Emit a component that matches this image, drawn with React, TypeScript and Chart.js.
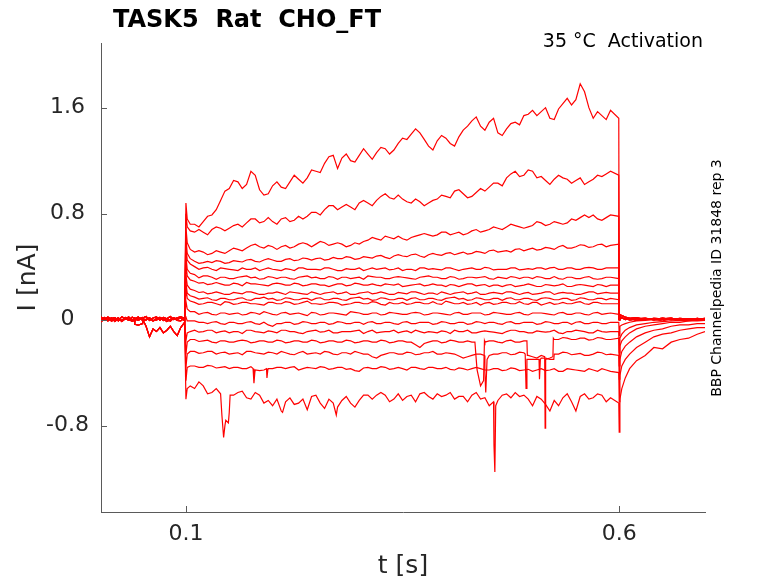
import { useEffect, useRef } from "react"
import { Chart, registerables } from "chart.js"

Chart.register(...registerables)

// ── text ────────────────────────────────────────────────────────────────
const TITLE = "TASK5  Rat  CHO_FT"
const CONDITION = "35 °C  Activation"
const SOURCE = "BBP Channelpedia ID 31848 rep 3"
const X_TITLE = "t [s]"
const Y_TITLE = "I [nA]"

// ── axes ────────────────────────────────────────────────────────────────
const X_MIN = 0.002
const X_MAX = 0.699
const Y_MIN = -1.452
const Y_MAX = 2.088
const X_TICKS = [0.1, 0.6]
const X_TICK_LABELS = ["0.1", "0.6"]
const Y_TICKS = [-0.8, 0, 0.8, 1.6]
const Y_TICK_LABELS = ["-0.8", "0", "0.8", "1.6"]

// ── sample times (s) ────────────────────────────────────────────────────
const T_PRE = [0.002, 0.006, 0.01, 0.014, 0.018, 0.022, 0.026, 0.03, 0.034, 0.038, 0.0405, 0.041, 0.045, 0.0495, 0.05, 0.054, 0.058, 0.062, 0.066, 0.07, 0.074, 0.078, 0.082, 0.086, 0.09, 0.094, 0.0985]
const T_ONSET = [0.1, 0.1015, 0.105]
const T_STEP = [0.11, 0.12, 0.13, 0.14, 0.15, 0.16, 0.17, 0.18, 0.19, 0.2, 0.21, 0.22, 0.23, 0.24, 0.25, 0.26, 0.27, 0.28, 0.29, 0.3, 0.31, 0.32, 0.33, 0.34, 0.35, 0.36, 0.37, 0.38, 0.39, 0.4, 0.41, 0.42, 0.43, 0.44, 0.45, 0.46, 0.47, 0.48, 0.49, 0.5, 0.51, 0.52, 0.53, 0.54, 0.55, 0.56, 0.57, 0.58, 0.59]
const T_MID = [0.115, 0.125, 0.135, 0.145, 0.155, 0.165, 0.175, 0.185, 0.195, 0.205, 0.215, 0.225, 0.235, 0.245, 0.255, 0.265, 0.275, 0.285, 0.295, 0.305, 0.315, 0.325, 0.335, 0.345, 0.355, 0.365, 0.375, 0.385, 0.395, 0.405, 0.415, 0.425, 0.435, 0.445, 0.455, 0.465, 0.475, 0.485, 0.495, 0.505, 0.515, 0.525, 0.535, 0.545, 0.555, 0.565, 0.575, 0.585]
const T_END = 0.5995
const T_TAIL = [0.6, 0.6008, 0.603, 0.607, 0.612, 0.62, 0.63, 0.64, 0.65, 0.66, 0.67, 0.68, 0.69, 0.699]

// ── holding current before the step (nA) ────────────────────────────────
const base0 = [0.02, -0.005, 0.018, 0.004, 0.015, -0.01, 0.022, 0.006, -0.004, 0.018, 0.01, 0.004, 0.02, -0.002, 0.012, 0.024, -0.006, 0.012, 0.02, -0.004, 0.016, 0.006, 0.024, 0.0, 0.014, 0.02, 0.01]
const base1 = [-0.012, 0.012, -0.004, 0.014, -0.014, 0.008, -0.006, 0.016, 0.002, -0.012, 0.004, -0.035, -0.042, -0.03, 0.01, -0.004, 0.014, -0.01, 0.008, 0.016, -0.006, 0.008, -0.012, 0.014, 0.002, 0.012, -0.008]
const base2 = [0.006, 0.016, -0.01, 0.01, 0.014, -0.004, -0.008, 0.012, 0.016, -0.002, 0.008, 0.004, -0.006, 0.01, 0.002, -0.05, -0.13, -0.07, -0.09, -0.06, -0.1, -0.08, -0.05, -0.09, -0.12, -0.06, -0.02]
const base3 = [-0.016, 0.004, 0.018, -0.01, 0.0, 0.014, -0.014, 0.006, 0.02, -0.006, -0.01, 0.012, 0.004, 0.016, -0.012, 0.002, 0.012, -0.008, -0.004, 0.016, 0.004, -0.014, 0.002, 0.012, -0.006, -0.01, 0.014]

// ── onset transient and last sample of each sweep (nA) ─────────────────
const ONSET_PEAK = [0.88, 0.8, 0.7, 0.62, 0.55, 0.48, 0.42, 0.34, 0.28, 0.24, 0.14, 0.02, -0.16, -0.26, -0.36, -0.46, -0.6]
const ONSET_MID = [0.76, 0.7, 0.58, 0.5, 0.45, 0.38, 0.33, 0.26, 0.2, 0.16, 0.08, -0.01, -0.1, -0.17, -0.26, -0.36, -0.52]
const ONSET_LATE = [0.72, 0.67, 0.53, 0.46, 0.42, 0.35, 0.3, 0.23, 0.18, 0.14, 0.06, -0.01, -0.09, -0.15, -0.24, -0.35, -0.5]
const STEP_END = [1.52, 1.09, 0.78, 0.57, 0.39, 0.31, 0.26, 0.2, 0.15, 0.12, 0.04, -0.02, -0.09, -0.14, -0.27, -0.4, -0.63]

// ── current during the step at T_STEP, one array per sweep (nA) ────────
const stepA = [0.72, 0.74, 0.79, 0.9, 0.99, 1.04, 1.02, 1.09, 0.94, 1.01, 1.0, 1.04, 1.06, 1.07, 1.12, 1.18, 1.24, 1.22, 1.2, 1.24, 1.25, 1.26, 1.29, 1.28, 1.37, 1.4, 1.41, 1.31, 1.35, 1.37, 1.31, 1.43, 1.5, 1.46, 1.49, 1.41, 1.44, 1.49, 1.54, 1.58, 1.57, 1.52, 1.59, 1.67, 1.66, 1.72, 1.52, 1.54, 1.58]
const stepB = [0.66, 0.66, 0.68, 0.69, 0.69, 0.72, 0.73, 0.76, 0.74, 0.74, 0.76, 0.74, 0.78, 0.78, 0.81, 0.83, 0.86, 0.85, 0.85, 0.88, 0.88, 0.9, 0.95, 0.91, 0.91, 0.88, 0.89, 0.88, 0.91, 0.93, 0.97, 0.95, 0.93, 0.99, 1.0, 1.03, 1.07, 1.12, 1.09, 1.12, 1.08, 1.02, 1.09, 1.06, 1.05, 1.02, 1.06, 1.08, 1.12]
const stepC = [0.51, 0.51, 0.5, 0.51, 0.52, 0.53, 0.54, 0.57, 0.54, 0.55, 0.55, 0.54, 0.57, 0.57, 0.57, 0.58, 0.57, 0.57, 0.56, 0.57, 0.6, 0.61, 0.63, 0.61, 0.61, 0.62, 0.64, 0.64, 0.64, 0.66, 0.65, 0.64, 0.67, 0.66, 0.68, 0.69, 0.7, 0.71, 0.69, 0.71, 0.73, 0.72, 0.73, 0.73, 0.75, 0.79, 0.79, 0.75, 0.79]
const stepD = [0.44, 0.43, 0.43, 0.44, 0.43, 0.44, 0.45, 0.44, 0.45, 0.45, 0.44, 0.46, 0.45, 0.46, 0.46, 0.45, 0.47, 0.46, 0.47, 0.46, 0.47, 0.48, 0.47, 0.48, 0.48, 0.49, 0.48, 0.49, 0.49, 0.5, 0.49, 0.51, 0.5, 0.51, 0.52, 0.51, 0.52, 0.53, 0.52, 0.54, 0.53, 0.54, 0.55, 0.54, 0.55, 0.56, 0.55, 0.57, 0.56]
const stepE = [0.4, 0.39, 0.38, 0.39, 0.38, 0.37, 0.38, 0.39, 0.38, 0.38, 0.37, 0.38, 0.39, 0.38, 0.38, 0.39, 0.38, 0.37, 0.38, 0.39, 0.38, 0.38, 0.39, 0.38, 0.37, 0.38, 0.39, 0.38, 0.38, 0.39, 0.38, 0.38, 0.39, 0.38, 0.39, 0.38, 0.38, 0.39, 0.38, 0.38, 0.39, 0.39, 0.38, 0.39, 0.38, 0.39, 0.39, 0.38, 0.39]
const stepF = [0.34, 0.33, 0.32, 0.32, 0.31, 0.32, 0.33, 0.32, 0.31, 0.32, 0.32, 0.31, 0.32, 0.33, 0.32, 0.31, 0.32, 0.32, 0.31, 0.32, 0.33, 0.32, 0.31, 0.32, 0.32, 0.31, 0.32, 0.33, 0.32, 0.31, 0.32, 0.31, 0.32, 0.32, 0.31, 0.32, 0.31, 0.32, 0.32, 0.31, 0.32, 0.31, 0.31, 0.32, 0.31, 0.32, 0.31, 0.31, 0.32]
const stepG = [0.29, 0.28, 0.27, 0.27, 0.26, 0.27, 0.28, 0.27, 0.26, 0.27, 0.27, 0.26, 0.27, 0.26, 0.27, 0.26, 0.26, 0.27, 0.26, 0.27, 0.26, 0.26, 0.27, 0.26, 0.25, 0.26, 0.27, 0.26, 0.26, 0.25, 0.26, 0.26, 0.27, 0.26, 0.25, 0.26, 0.26, 0.25, 0.26, 0.26, 0.25, 0.26, 0.26, 0.25, 0.26, 0.26, 0.25, 0.26, 0.26]
const stepH = [0.22, 0.21, 0.2, 0.2, 0.19, 0.2, 0.21, 0.2, 0.19, 0.2, 0.2, 0.21, 0.2, 0.19, 0.2, 0.2, 0.21, 0.2, 0.19, 0.2, 0.21, 0.2, 0.2, 0.19, 0.2, 0.21, 0.2, 0.2, 0.19, 0.2, 0.2, 0.21, 0.2, 0.19, 0.2, 0.2, 0.21, 0.2, 0.2, 0.19, 0.2, 0.21, 0.2, 0.2, 0.19, 0.2, 0.21, 0.2, 0.2]
const stepI = [0.17, 0.16, 0.15, 0.16, 0.15, 0.16, 0.15, 0.16, 0.17, 0.16, 0.15, 0.16, 0.15, 0.16, 0.16, 0.15, 0.16, 0.15, 0.16, 0.17, 0.16, 0.15, 0.16, 0.15, 0.16, 0.16, 0.15, 0.16, 0.15, 0.16, 0.17, 0.16, 0.15, 0.16, 0.15, 0.16, 0.16, 0.15, 0.16, 0.15, 0.16, 0.16, 0.15, 0.16, 0.15, 0.16, 0.15, 0.16, 0.16]
const stepJ = [0.13, 0.12, 0.13, 0.11, 0.13, 0.12, 0.13, 0.12, 0.11, 0.13, 0.12, 0.13, 0.12, 0.14, 0.12, 0.12, 0.13, 0.11, 0.12, 0.13, 0.12, 0.13, 0.11, 0.12, 0.13, 0.12, 0.13, 0.12, 0.12, 0.14, 0.12, 0.13, 0.12, 0.11, 0.13, 0.12, 0.13, 0.12, 0.12, 0.13, 0.11, 0.13, 0.12, 0.12, 0.13, 0.12, 0.13, 0.12, 0.12]
const stepK = [0.06, 0.05, 0.04, 0.05, 0.04, 0.05, 0.04, 0.05, 0.06, 0.04, 0.05, 0.04, 0.05, 0.03, 0.05, 0.04, 0.05, 0.04, 0.06, 0.05, 0.04, 0.05, 0.04, 0.05, 0.04, 0.05, 0.05, 0.04, 0.05, 0.04, 0.05, 0.04, 0.05, 0.05, 0.04, 0.05, 0.04, 0.05, 0.04, 0.05, 0.05, 0.04, 0.05, 0.04, 0.05, 0.04, 0.05, 0.04, 0.05]
const stepL = [-0.01, -0.02, -0.02, -0.03, -0.02, -0.03, -0.02, -0.03, -0.02, -0.05, -0.03, -0.02, -0.03, -0.02, -0.03, -0.02, -0.03, -0.02, -0.03, -0.02, -0.02, -0.03, -0.02, -0.03, -0.02, -0.03, -0.02, -0.02, -0.03, -0.02, -0.03, -0.02, -0.03, -0.02, -0.02, -0.03, -0.02, -0.03, -0.02, -0.02, -0.03, -0.02, -0.03, -0.02, -0.02, -0.03, -0.02, -0.03, -0.02]
const stepM = [-0.08, -0.09, -0.08, -0.09, -0.1, -0.09, -0.08, -0.09, -0.1, -0.09, -0.08, -0.09, -0.1, -0.09, -0.08, -0.09, -0.1, -0.09, -0.09, -0.08, -0.09, -0.1, -0.09, -0.08, -0.09, -0.1, -0.09, -0.09, -0.1, -0.09, -0.08, -0.09, -0.1, -0.09, -0.09, -0.1, -0.09, -0.08, -0.09, -0.1, -0.09, -0.09, -0.1, -0.09, -0.08, -0.09, -0.1, -0.09, -0.09]
const stepN = [-0.15, -0.16, -0.17, -0.16, -0.17, -0.16, -0.16, -0.17, -0.16, -0.17, -0.16, -0.17, -0.16, -0.17, -0.16, -0.17, -0.16, -0.17, -0.16, -0.17, -0.16, -0.17, -0.16, -0.17, -0.16, -0.17, -0.21, -0.17, -0.16, -0.17, -0.16, -0.17, -0.17, -0.5, -0.16, -0.17, -0.16, -0.17, -0.16, -0.28, -0.27, -0.29, -0.15, -0.14, -0.15, -0.14, -0.15, -0.14, -0.15]
const stepO = [-0.24, -0.25, -0.24, -0.25, -0.26, -0.25, -0.24, -0.25, -0.26, -0.25, -0.24, -0.26, -0.25, -0.26, -0.25, -0.24, -0.26, -0.25, -0.26, -0.25, -0.26, -0.29, -0.26, -0.25, -0.26, -0.25, -0.26, -0.25, -0.26, -0.25, -0.26, -0.29, -0.27, -0.26, -0.27, -0.26, -0.25, -0.26, -0.25, -0.3, -0.29, -0.3, -0.26, -0.25, -0.26, -0.27, -0.26, -0.25, -0.26]
const stepP = [-0.35, -0.36, -0.35, -0.36, -0.37, -0.36, -0.37, -0.38, -0.38, -0.37, -0.36, -0.36, -0.38, -0.36, -0.37, -0.36, -0.37, -0.36, -0.37, -0.39, -0.36, -0.37, -0.36, -0.37, -0.37, -0.36, -0.37, -0.36, -0.37, -0.36, -0.38, -0.37, -0.37, -0.37, -0.38, -0.37, -0.38, -0.37, -0.38, -0.39, -0.37, -0.38, -0.39, -0.37, -0.38, -0.39, -0.38, -0.37, -0.39]
const stepQ = [-0.52, -0.5, -0.55, -0.56, -0.7, -0.55, -0.59, -0.55, -0.63, -0.65, -0.69, -0.59, -0.63, -0.68, -0.57, -0.67, -0.63, -0.61, -0.63, -0.61, -0.57, -0.57, -0.57, -0.6, -0.61, -0.57, -0.56, -0.58, -0.56, -0.57, -0.6, -0.58, -0.57, -0.6, -0.65, -0.61, -0.56, -0.55, -0.57, -0.65, -0.6, -0.69, -0.65, -0.56, -0.69, -0.56, -0.59, -0.57, -0.59]

// ── in-between samples at T_MID (the fast noise) ────────────────────────
const midA = [0.7, 0.78, 0.83, 0.97, 1.05, 0.99, 1.12, 0.98, 0.95, 1.04, 0.99, 1.09, 1.03, 1.13, 1.11, 1.23, 1.14, 1.25, 1.19, 1.29, 1.21, 1.3, 1.25, 1.33, 1.36, 1.44, 1.36, 1.28, 1.39, 1.33, 1.38, 1.46, 1.53, 1.43, 1.52, 1.39, 1.48, 1.47, 1.55, 1.54, 1.6, 1.51, 1.63, 1.62, 1.78, 1.6, 1.57, 1.51]
const midB = [0.68, 0.64, 0.7, 0.67, 0.71, 0.7, 0.76, 0.73, 0.77, 0.72, 0.77, 0.75, 0.76, 0.81, 0.79, 0.86, 0.83, 0.87, 0.83, 0.9, 0.86, 0.93, 0.92, 0.94, 0.89, 0.91, 0.86, 0.9, 0.94, 0.92, 0.98, 0.92, 0.96, 0.97, 1.03, 1.01, 1.1, 1.08, 1.13, 1.07, 1.05, 1.06, 1.07, 1.03, 1.07, 1.04, 1.09, 1.1]
const midC = [0.52, 0.49, 0.52, 0.5, 0.54, 0.52, 0.56, 0.55, 0.56, 0.53, 0.56, 0.55, 0.58, 0.55, 0.59, 0.56, 0.58, 0.55, 0.58, 0.59, 0.62, 0.6, 0.62, 0.63, 0.6, 0.63, 0.65, 0.63, 0.66, 0.64, 0.66, 0.65, 0.68, 0.67, 0.7, 0.68, 0.72, 0.7, 0.7, 0.74, 0.71, 0.74, 0.72, 0.76, 0.77, 0.77, 0.76, 0.77]
const midD = [0.425, 0.44, 0.445, 0.425, 0.445, 0.435, 0.455, 0.435, 0.46, 0.44, 0.455, 0.445, 0.465, 0.45, 0.465, 0.455, 0.46, 0.475, 0.455, 0.475, 0.465, 0.485, 0.46, 0.49, 0.475, 0.495, 0.47, 0.5, 0.485, 0.505, 0.5, 0.495, 0.515, 0.5, 0.525, 0.515, 0.51, 0.535, 0.53, 0.525, 0.545, 0.53, 0.56, 0.54, 0.565, 0.545, 0.565, 0.55]
const midE = [0.38, 0.395, 0.37, 0.385, 0.375, 0.39, 0.38, 0.37, 0.39, 0.375, 0.385, 0.37, 0.39, 0.38, 0.375, 0.39, 0.37, 0.385, 0.38, 0.37, 0.39, 0.385, 0.375, 0.39, 0.38, 0.37, 0.39, 0.385, 0.375, 0.39, 0.37, 0.385, 0.38, 0.395, 0.375, 0.38, 0.39, 0.375, 0.385, 0.39, 0.38, 0.395, 0.38, 0.39, 0.38, 0.395, 0.38, 0.39]
const midF = [0.315, 0.33, 0.305, 0.32, 0.31, 0.325, 0.315, 0.305, 0.325, 0.31, 0.32, 0.305, 0.325, 0.315, 0.31, 0.325, 0.305, 0.32, 0.315, 0.305, 0.325, 0.32, 0.31, 0.325, 0.315, 0.305, 0.325, 0.32, 0.31, 0.325, 0.305, 0.32, 0.315, 0.325, 0.305, 0.315, 0.325, 0.31, 0.32, 0.325, 0.31, 0.325, 0.305, 0.32, 0.31, 0.325, 0.305, 0.32]
const midG = [0.275, 0.265, 0.28, 0.26, 0.275, 0.255, 0.27, 0.265, 0.255, 0.275, 0.26, 0.275, 0.255, 0.27, 0.26, 0.25, 0.27, 0.255, 0.275, 0.26, 0.27, 0.255, 0.265, 0.27, 0.255, 0.265, 0.255, 0.27, 0.26, 0.265, 0.25, 0.27, 0.255, 0.265, 0.26, 0.25, 0.265, 0.255, 0.27, 0.25, 0.265, 0.255, 0.27, 0.25, 0.265, 0.255, 0.265, 0.25]
const midH = [0.205, 0.195, 0.21, 0.19, 0.205, 0.195, 0.21, 0.19, 0.2, 0.21, 0.19, 0.205, 0.195, 0.21, 0.19, 0.205, 0.195, 0.21, 0.19, 0.205, 0.195, 0.21, 0.19, 0.205, 0.195, 0.21, 0.19, 0.2, 0.21, 0.19, 0.205, 0.195, 0.21, 0.19, 0.205, 0.195, 0.21, 0.19, 0.205, 0.195, 0.21, 0.19, 0.205, 0.2, 0.19, 0.21, 0.195, 0.205]
const midI = [0.155, 0.165, 0.145, 0.16, 0.15, 0.165, 0.145, 0.16, 0.155, 0.145, 0.165, 0.15, 0.16, 0.145, 0.165, 0.15, 0.16, 0.145, 0.165, 0.155, 0.145, 0.165, 0.15, 0.16, 0.145, 0.165, 0.15, 0.16, 0.145, 0.165, 0.155, 0.145, 0.165, 0.15, 0.16, 0.145, 0.165, 0.15, 0.16, 0.145, 0.165, 0.15, 0.16, 0.145, 0.165, 0.15, 0.16, 0.15]
const midJ = [0.115, 0.13, 0.12, 0.135, 0.115, 0.13, 0.12, 0.115, 0.13, 0.12, 0.135, 0.115, 0.13, 0.12, 0.115, 0.13, 0.125, 0.115, 0.13, 0.12, 0.135, 0.115, 0.13, 0.12, 0.115, 0.13, 0.12, 0.135, 0.115, 0.13, 0.12, 0.115, 0.13, 0.125, 0.115, 0.13, 0.12, 0.135, 0.115, 0.13, 0.12, 0.115, 0.13, 0.12, 0.135, 0.115, 0.13, 0.12]
const midK = [0.04, 0.055, 0.035, 0.05, 0.045, 0.035, 0.055, 0.04, 0.05, 0.035, 0.055, 0.045, 0.04, 0.055, 0.035, 0.05, 0.045, 0.035, 0.055, 0.04, 0.05, 0.035, 0.055, 0.045, 0.04, 0.055, 0.035, 0.05, 0.045, 0.035, 0.055, 0.04, 0.05, 0.035, 0.055, 0.045, 0.04, 0.055, 0.035, 0.05, 0.045, 0.035, 0.055, 0.04, 0.05, 0.035, 0.055, 0.045]
const midL = [-0.02, -0.03, -0.015, -0.035, -0.02, -0.03, -0.015, -0.035, -0.04, -0.03, -0.02, -0.035, -0.015, -0.03, -0.02, -0.035, -0.015, -0.03, -0.02, -0.035, -0.015, -0.03, -0.02, -0.035, -0.015, -0.03, -0.02, -0.035, -0.015, -0.03, -0.02, -0.035, -0.015, -0.03, -0.02, -0.035, -0.015, -0.03, -0.02, -0.035, -0.015, -0.03, -0.02, -0.035, -0.015, -0.03, -0.02, -0.03]
const midM = [-0.095, -0.08, -0.1, -0.085, -0.09, -0.105, -0.08, -0.095, -0.085, -0.1, -0.08, -0.09, -0.105, -0.085, -0.095, -0.08, -0.1, -0.09, -0.085, -0.105, -0.08, -0.095, -0.09, -0.1, -0.085, -0.08, -0.1, -0.095, -0.085, -0.105, -0.09, -0.08, -0.1, -0.085, -0.095, -0.105, -0.08, -0.09, -0.1, -0.085, -0.095, -0.08, -0.105, -0.09, -0.085, -0.1, -0.08, -0.095]
const midN = [-0.165, -0.155, -0.175, -0.16, -0.17, -0.155, -0.175, -0.16, -0.17, -0.155, -0.175, -0.16, -0.17, -0.155, -0.175, -0.16, -0.17, -0.155, -0.175, -0.16, -0.17, -0.155, -0.175, -0.16, -0.17, -0.19, -0.18, -0.16, -0.175, -0.155, -0.17, -0.16, -0.3, -0.17, -0.16, -0.175, -0.155, -0.17, -0.27, -0.29, -0.55, -0.15, -0.135, -0.15, -0.14, -0.155, -0.135, -0.15]
const midO = [-0.255, -0.24, -0.26, -0.245, -0.255, -0.265, -0.24, -0.255, -0.245, -0.26, -0.25, -0.265, -0.24, -0.255, -0.26, -0.245, -0.265, -0.25, -0.24, -0.26, -0.28, -0.27, -0.25, -0.26, -0.245, -0.265, -0.25, -0.24, -0.26, -0.255, -0.275, -0.28, -0.26, -0.4, -0.26, -0.25, -0.265, -0.245, -0.3, -0.3, -0.29, -0.26, -0.245, -0.265, -0.255, -0.27, -0.245, -0.265]
const midP = [-0.36, -0.345, -0.365, -0.355, -0.36, -0.37, -0.355, -0.385, -0.37, -0.36, -0.37, -0.355, -0.37, -0.365, -0.355, -0.375, -0.36, -0.375, -0.385, -0.365, -0.37, -0.355, -0.375, -0.36, -0.38, -0.36, -0.375, -0.36, -0.37, -0.375, -0.365, -0.38, -0.36, -0.38, -0.37, -0.385, -0.365, -0.385, -0.375, -0.38, -0.385, -0.37, -0.39, -0.375, -0.385, -0.37, -0.39, -0.38]
const midQ = [-0.47, -0.56, -0.52, -0.8, -0.57, -0.54, -0.6, -0.57, -0.61, -0.6, -0.62, -0.64, -0.6, -0.58, -0.63, -0.6, -0.66, -0.58, -0.66, -0.57, -0.6, -0.55, -0.62, -0.56, -0.58, -0.62, -0.55, -0.6, -0.58, -0.55, -0.58, -0.62, -0.55, -0.59, -0.62, -0.57, -0.59, -0.58, -0.6, -0.58, -0.64, -0.61, -0.59, -0.62, -0.58, -0.6, -0.56, -0.62]

// brief openings / block events seen between the regular samples: [t, I]
const eventsN = [[0.4335, -0.17], [0.436, -0.38], [0.4435, -0.46], [0.4445, -0.16], [0.4935, -0.16], [0.494, -0.27], [0.514, -0.28], [0.5145, -0.82], [0.5152, -0.3], [0.5235, -0.28], [0.524, -0.14]]
const eventsO = [[0.4445, -0.27], [0.446, -0.55], [0.4475, -0.3], [0.4915, -0.26], [0.4925, -0.52], [0.4935, -0.3], [0.5075, -0.3], [0.508, -0.45], [0.509, -0.3], [0.5245, -0.3], [0.525, -0.26]]
const eventsP = [[0.1775, -0.37], [0.1785, -0.48], [0.1795, -0.4], [0.193, -0.37], [0.1935, -0.44], [0.1945, -0.38]]
const eventsQ = [[0.1415, -0.72], [0.1435, -0.89], [0.146, -0.76], [0.149, -0.78], [0.151, -0.57], [0.2115, -0.7], [0.2735, -0.72], [0.4555, -0.95], [0.4565, -1.15], [0.4575, -0.65]]

// ── tail currents after the step at T_TAIL (nA) ─────────────────────────
const tailUp0 = [0.0, 0.04, 0.03, 0.02, 0.01, 0.015, 0.0, 0.01, 0.005, 0.012, -0.004, 0.008, 0.002, 0.01]
const tailUp1 = [0.0, 0.02, 0.015, 0.0, 0.01, -0.005, 0.008, 0.0, 0.012, 0.002, 0.008, -0.006, 0.01, 0.0]
const tailUp2 = [0.0, 0.03, 0.01, 0.012, -0.004, 0.006, 0.012, -0.002, 0.006, 0.0, 0.01, 0.004, -0.004, 0.008]
const tailL = [-0.12, -0.05, -0.04, -0.03, -0.02, -0.01, -0.005, 0.0, -0.01, 0.005, 0.0, -0.005, 0.005, 0.0]
const tailM = [-0.25, -0.14, -0.11, -0.08, -0.06, -0.04, -0.03, -0.02, -0.015, -0.01, -0.005, -0.01, 0.0, -0.005]
const tailN = [-0.35, -0.2, -0.16, -0.13, -0.1, -0.07, -0.05, -0.04, -0.03, -0.02, -0.02, -0.01, -0.01, -0.005]
const tailO = [-0.45, -0.3, -0.24, -0.2, -0.17, -0.13, -0.1, -0.08, -0.07, -0.05, -0.04, -0.04, -0.03, -0.03]
const tailP = [-0.62, -0.42, -0.35, -0.3, -0.26, -0.21, -0.17, -0.13, -0.11, -0.1, -0.08, -0.07, -0.06, -0.06]
const tailQ = [-0.85, -0.6, -0.52, -0.44, -0.37, -0.31, -0.27, -0.21, -0.22, -0.17, -0.15, -0.14, -0.11, -0.09]

const BASELINES = [base0, base1, base2, base3]
const STEPS = [stepA, stepB, stepC, stepD, stepE, stepF, stepG, stepH, stepI, stepJ, stepK, stepL, stepM, stepN, stepO, stepP, stepQ]
const MIDS = [midA, midB, midC, midD, midE, midF, midG, midH, midI, midJ, midK, midL, midM, midN, midO, midP, midQ]
const EVENTS: number[][][] = [[], [], [], [], [], [], [], [], [], [], [], [], [], eventsN, eventsO, eventsP, eventsQ]
const TAILS = [tailUp0, tailUp1, tailUp2, tailUp0, tailUp1, tailUp2, tailUp0, tailUp1, tailUp2, tailUp0, tailUp1, tailL, tailM, tailN, tailO, tailP, tailQ]

const FONT = "'DejaVu Sans', sans-serif"
const INK = "#262626"
const AXIS = "#5a5a5a"
const TRACE = "#ff0000"

type Pt = { x: number; y: number }

function buildSweep(i: number): Pt[] {
  const pts: Pt[] = []
  const base = BASELINES[i % BASELINES.length]
  T_PRE.forEach((t, k) => pts.push({ x: t, y: base[k] }))
  pts.push({ x: T_ONSET[0], y: ONSET_PEAK[i] }, { x: T_ONSET[1], y: ONSET_MID[i] }, { x: T_ONSET[2], y: ONSET_LATE[i] })
  const mid: Pt[] = T_STEP.map((t, k) => ({ x: t, y: STEPS[i][k] }))
  T_MID.forEach((t, k) => mid.push({ x: t, y: MIDS[i][k] }))
  EVENTS[i].forEach(([t, v]) => mid.push({ x: t, y: v }))
  mid.sort((a, b) => a.x - b.x)
  pts.push(...mid)
  pts.push({ x: T_END, y: STEP_END[i] })
  T_TAIL.forEach((t, k) => pts.push({ x: t, y: TAILS[i][k] }))
  return pts
}

// MATLAB-style inward tick marks
const inwardTicks = {
  id: "inwardTicks",
  afterDraw(chart: Chart) {
    const { ctx, chartArea, scales } = chart
    ctx.save()
    ctx.strokeStyle = AXIS
    ctx.lineWidth = 1
    ctx.beginPath()
    X_TICKS.forEach(v => {
      const x = Math.round(scales.x.getPixelForValue(v)) + 0.5
      ctx.moveTo(x, chartArea.bottom)
      ctx.lineTo(x, chartArea.bottom - 6)
    })
    Y_TICKS.forEach(v => {
      const y = Math.round(scales.y.getPixelForValue(v)) + 0.5
      ctx.moveTo(chartArea.left, y)
      ctx.lineTo(chartArea.left + 6, y)
    })
    ctx.stroke()
    ctx.restore()
  },
}

export default function App() {
  const canvasRef = useRef<HTMLCanvasElement>(null)

  useEffect(() => {
    if (!canvasRef.current) return
    const chart = new Chart(canvasRef.current, {
      type: "line",
      data: {
        datasets: STEPS.map((_, i) => ({
          label: `sweep ${i + 1}`,
          data: buildSweep(i),
          borderColor: TRACE,
          borderWidth: 1.2,
          pointRadius: 0,
          tension: 0,
          fill: false,
        })),
      },
      options: {
        animation: false,
        responsive: true,
        maintainAspectRatio: false,
        events: [],
        layout: { padding: { left: 0, right: 73, top: 43, bottom: 0 } },
        plugins: { legend: { display: false }, tooltip: { enabled: false } },
        scales: {
          x: {
            type: "linear",
            min: X_MIN,
            max: X_MAX,
            afterFit: s => { s.height = 71 },
            afterBuildTicks: s => { s.ticks = X_TICKS.map(v => ({ value: v })) },
            grid: { display: false, drawTicks: false },
            border: { display: true, color: AXIS, width: 1 },
            ticks: {
              autoSkip: false,
              maxRotation: 0,
              padding: 9,
              color: INK,
              font: { family: FONT, size: 22 },
              callback: (_v, i) => X_TICK_LABELS[i],
            },
            title: { display: true, text: X_TITLE, color: INK, font: { family: FONT, size: 25 }, padding: { top: 0, bottom: 2 } },
          },
          y: {
            type: "linear",
            min: Y_MIN,
            max: Y_MAX,
            afterFit: s => { s.width = 101 },
            afterBuildTicks: s => { s.ticks = Y_TICKS.map(v => ({ value: v })) },
            grid: { display: false, drawTicks: false },
            border: { display: true, color: AXIS, width: 1 },
            ticks: {
              autoSkip: false,
              crossAlign: "center",
              padding: 12,
              color: INK,
              font: { family: FONT, size: 22 },
              callback: (_v, i) => Y_TICK_LABELS[i],
            },
            title: { display: true, text: Y_TITLE, color: INK, font: { family: FONT, size: 25 }, padding: { top: 13, bottom: 0 } },
          },
        },
      },
      plugins: [inwardTicks],
    })
    return () => chart.destroy()
  }, [])

  return (
    <div style={{ position: "fixed", left: 0, top: 0, width: 778, height: 583, background: "#fff", fontFamily: FONT }}>
      <div style={{ position: "absolute", left: 0, top: 0, width: 778, height: 583 }}>
        <canvas ref={canvasRef} />
      </div>
      <div style={{ position: "absolute", left: 113, top: 7, fontSize: 24, lineHeight: 1, fontWeight: "bold", color: "#000", whiteSpace: "pre" }}>
        {TITLE}
      </div>
      <div style={{ position: "absolute", right: 75, top: 31.4, fontSize: 19, lineHeight: 1, color: "#000", whiteSpace: "pre" }}>
        {CONDITION}
      </div>
      <div
        style={{
          position: "absolute",
          left: 716.2 - 170,
          top: 278 - 7,
          width: 340,
          height: 14,
          fontSize: 14,
          lineHeight: 1,
          textAlign: "center",
          color: "#000",
          whiteSpace: "pre",
          transform: "rotate(-90deg)",
          transformOrigin: "50% 50%",
        }}
      >
        {SOURCE}
      </div>
    </div>
  )
}
